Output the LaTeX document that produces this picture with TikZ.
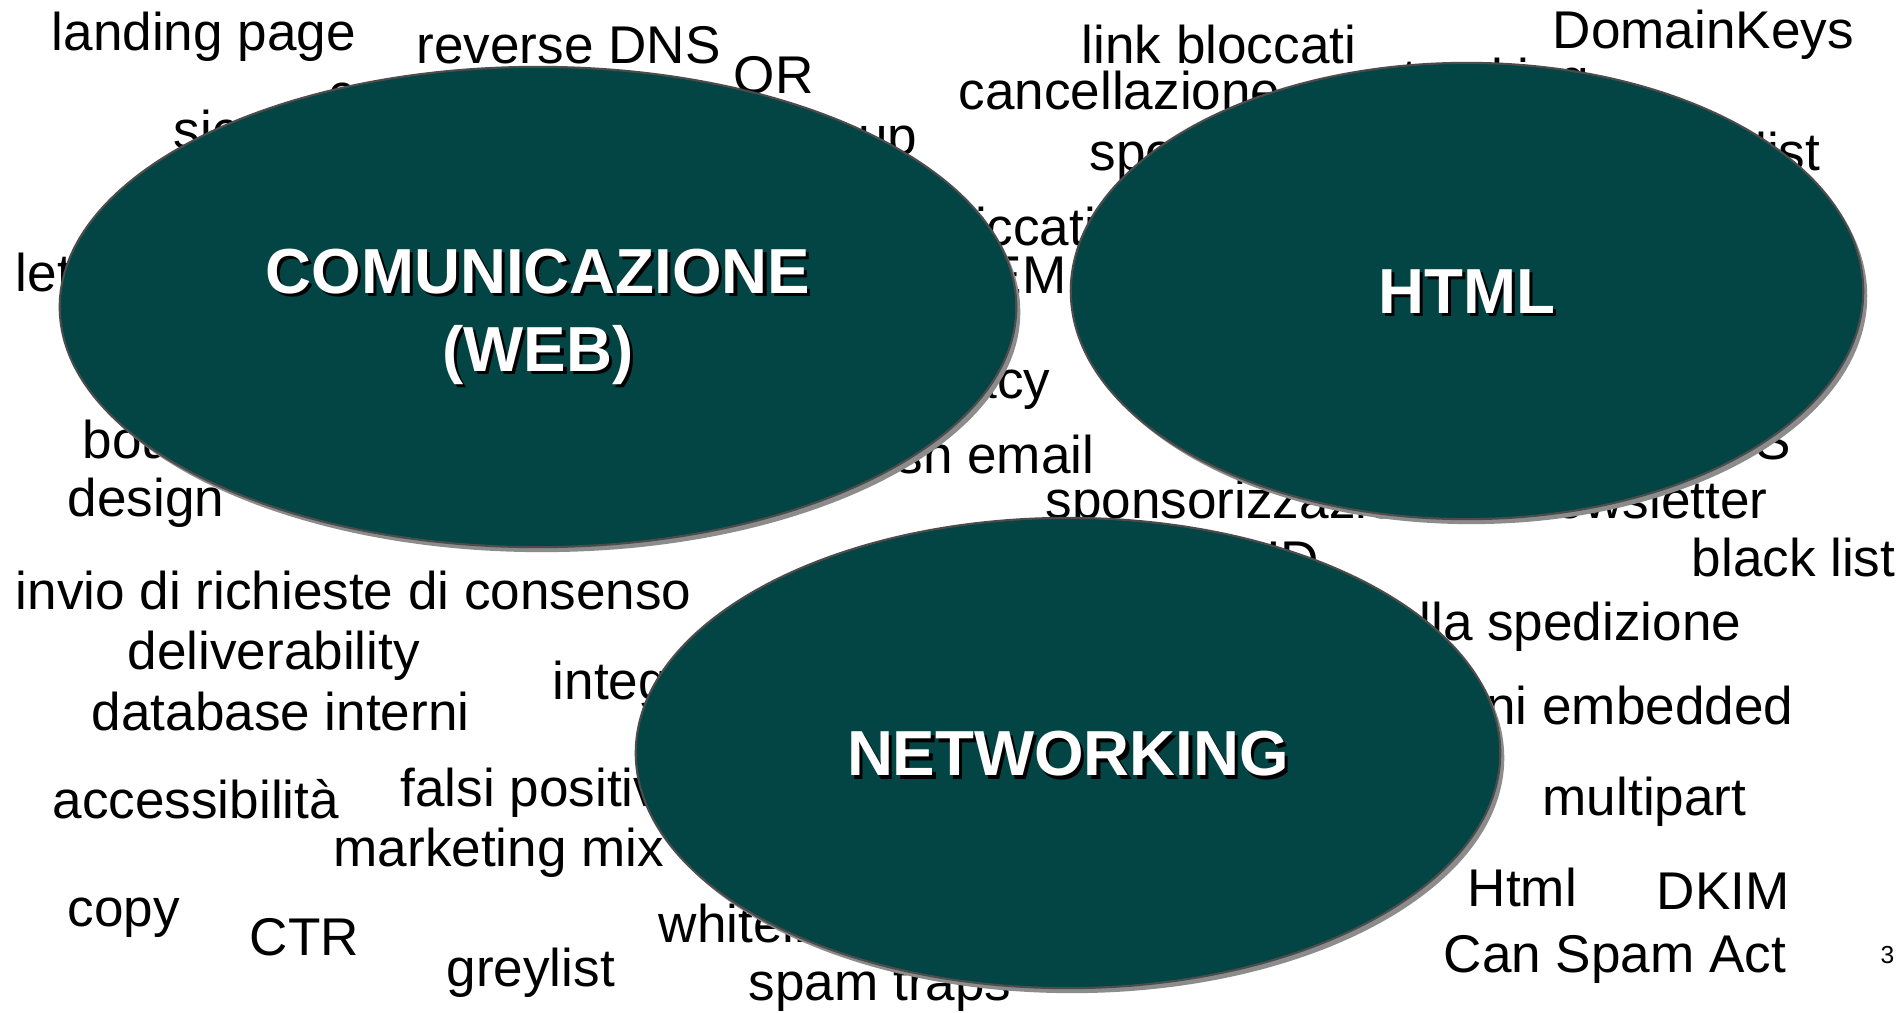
\documentclass[tikz,border=0pt]{standalone}
\usepackage{fontspec}
\setmainfont{Liberation Sans}
\usepackage{tikz}
\usetikzlibrary{shapes.geometric,shadows}

\definecolor{bubble}{RGB}{3,68,68}
\newcommand{\shtxt}[1]{\makebox[0pt][l]{\hspace{0.9pt}\raisebox{-0.9pt}{\color{black}#1}}#1}

\begin{document}
\begin{tikzpicture}[x=0.01cm,y=-0.01cm,
  word/.style={anchor=base west,inner sep=0pt,font=\fontsize{15.1pt}{18pt}\selectfont},
  rword/.style={word,anchor=base east},
  title/.style={text=white,align=center,inner sep=0pt,font=\fontsize{18.1pt}{22.2pt}\selectfont\bfseries},
  main node/.style={ellipse,fill=bubble,draw=black!70,line width=0.6pt,inner sep=0pt,
    drop shadow={shadow xshift=0.04cm,shadow yshift=-0.05cm,fill=black!45,opacity=1}}]

  \useasboundingbox[fill=white] (0,0) rectangle (1901,1012);

  % top left
  \node[word] (landing) at (51,51) {landing page};
  \node[word] (rdns) at (416,63) {reverse DNS};
  \node[word] (qr) at (733,93) {QR};
  \node[word] (camp) at (328,111) {campagne};
  \node[word] (sic) at (173,148) {sicurezza};
  \node[rword] (popup) at (918,154) {pop up};
  \node[word] (lett) at (15,291) {lettura};
  \node[word] (click) at (936,245) {cliccati};
  \node[rword] (dem) at (1067,293) {DEM};
  \node[rword] (priv) at (1051,398) {privacy};
  \node[word] (bounce) at (82,458) {bounce};
  \node[rword] (push) at (1095,473) {push email};
  \node[word] (design) at (67,516) {design};
  \node[rword] (target) at (785,510) {targeting};

  % top right
  \node[word] (linkb) at (1081,63) {link bloccati};
  \node[word] (canc) at (958,109) {cancellazione};
  \node[word] (track) at (1402,96) {tracking};
  \node[word] (dkeys) at (1552,48) {DomainKeys};
  \node[word] (spoof) at (1089,170) {spoofing};
  \node[rword] (mlist) at (1821,170) {mailing list};
  \node[rword] (rss) at (1792,459) {RSS};
  \node[word] (spons) at (1045,518) {sponsorizzazione};
  \node[rword] (news) at (1768,518) {newsletter};
  \node[rword] (sid) at (1320,578) {Sender ID};
  \node[word] (black) at (1691,576) {black list};
  \node[rword] (sped) at (1742,640) {frequenza della spedizione};
  \node[rword] (embed) at (1794,724) {immagini embedded};
  \node[word] (multi) at (1542,815) {multipart};
  \node[word] (html) at (1467,906) {Html};
  \node[word] (dkim) at (1656,909) {DKIM};
  \node[word] (spamact) at (1443,972) {Can Spam Act};
  \node[word,font=\fontsize{7pt}{8pt}\selectfont] (pg) at (1880,963) {3};

  % bottom left
  \node[word] (invio) at (15,609) {invio di richieste di consenso};
  \node[word] (deliv) at (127,669) {deliverability};
  \node[word] (dbint) at (91,730) {database interni};
  \node[word] (integ) at (552,699) {integrazione};
  \node[word] (access) at (52,818) {accessibilità};
  \node[word] (falsi) at (400,806) {falsi positivi};
  \node[word] (mix) at (333,866) {marketing mix};
  \node[word] (copy) at (67,926) {copy};
  \node[word] (ctr) at (249,955) {CTR};
  \node[word] (grey) at (446,986) {greylist};
  \node[word] (white) at (658,942) {whitelist};
  \node[word] (traps) at (748,1000) {spam traps};

  % the three areas
  \node[main node,minimum width=9.56cm,minimum height=4.8cm,
    label={[title,yshift=-0.11cm]center:{\shtxt{COMUNICAZIONE}\\\shtxt{(WEB)}}}] (web) at (538,307) {};
  \node[main node,minimum width=7.92cm,minimum height=4.56cm,
    label={[title,yshift=-0.025cm]center:\shtxt{HTML}}] (htm) at (1467,291) {};
  \node[main node,minimum width=8.64cm,minimum height=4.7cm,
    label={[title,yshift=-0.025cm]center:\shtxt{NETWORKING}}] (net) at (1068,753) {};
\end{tikzpicture}
\end{document}
